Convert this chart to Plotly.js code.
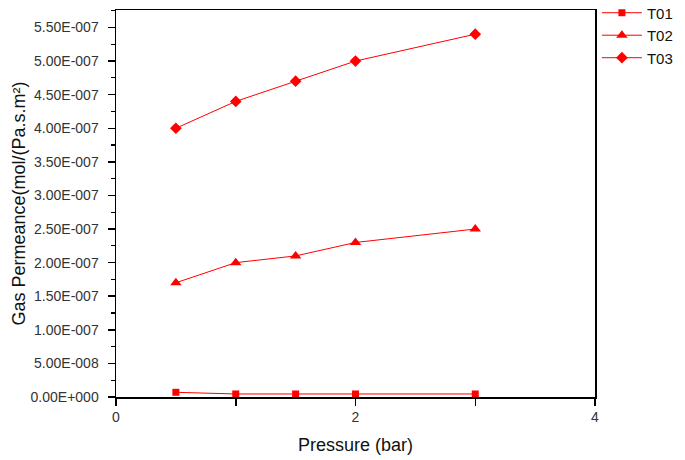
<!DOCTYPE html>
<html>
<head>
<meta charset="utf-8">
<script src="https://cdn.plot.ly/plotly-3.0.1.min.js"></script>
<style>html,body{margin:0;padding:0;background:#fff}#chart{width:685px;height:460px}</style>
</head>
<body>
<div id="chart"></div>
<script>
const pressure = [0.5, 1, 1.5, 2, 3];
const t01 = [7e-9, 4.5e-9, 4.5e-9, 4.5e-9, 4.5e-9];
const t02 = [1.7e-7, 2.0e-7, 2.1e-7, 2.3e-7, 2.5e-7];
const t03 = [4.0e-7, 4.4e-7, 4.7e-7, 5.0e-7, 5.4e-7];
const yTickVals = [0, 0.5e-7, 1.0e-7, 1.5e-7, 2.0e-7, 2.5e-7, 3.0e-7, 3.5e-7, 4.0e-7, 4.5e-7, 5.0e-7, 5.5e-7];
const yTickText = ["0.00E+000", "5.00E-008", "1.00E-007", "1.50E-007", "2.00E-007", "2.50E-007", "3.00E-007", "3.50E-007", "4.00E-007", "4.50E-007", "5.00E-007", "5.50E-007"];
const xTickVals = [0, 2, 4];
const xTickText = ["0", "2", "4"];

const red = '#ff0000';
function tr(name, y, sym, size) {
  return {x: pressure, y: y, name: name, type: 'scatter', mode: 'lines+markers',
    line: {color: red, width: 1}, marker: {color: red, symbol: sym, size: size}};
}
const data = [tr('T01', t01, 'square', 7), tr('T02', t02, 'triangle-up', 10), tr('T03', t03, 'diamond', 9)];
const axisCommon = {showline: true, linecolor: '#000', linewidth: 1.5, mirror: true, ticks: 'outside',
  tickcolor: '#000', tickwidth: 1.5, ticklen: 7, showgrid: false, zeroline: false,
  tickfont: {family: 'Liberation Sans, Arial, sans-serif', size: 14, color: '#333'}};
const layout = {
  width: 685, height: 460,
  margin: {l: 116, r: 90, t: 10, b: 63, autoexpand: false},
  paper_bgcolor: '#fff', plot_bgcolor: '#fff',
  font: {family: 'Liberation Sans, Arial, sans-serif', color: '#000'},
  xaxis: Object.assign({}, axisCommon, {range: [0, 4], tickmode: 'array', tickvals: xTickVals, ticktext: xTickText,
    minor: {ticks: 'outside', dtick: 1, tick0: 0, ticklen: 7, tickcolor: '#000', tickwidth: 1.5},
    title: {text: 'Pressure (bar)', font: {size: 18, color: '#111'}, standoff: 14}}),
  yaxis: Object.assign({}, axisCommon, {range: [0, 5.76e-7], tickmode: 'array', tickvals: yTickVals, ticktext: yTickText,
    ticklabelstandoff: 6,
    minor: {ticks: 'outside', dtick: 0.25e-7, tick0: 0, ticklen: 4, tickcolor: '#000', tickwidth: 1.2},
    title: {text: 'Gas Permeance(mol/(Pa.s.m²)', font: {size: 18, color: '#111'}, standoff: 0}}),
  legend: {x: 1.004, y: 1.035, xanchor: 'left', yanchor: 'top', font: {size: 15, color: '#111'},
    bgcolor: 'rgba(0,0,0,0)', tracegroupgap: 0, itemwidth: 40},
  showlegend: true
};
Plotly.newPlot('chart', data, layout, {displayModeBar: false, staticPlot: true});
</script>
</body>
</html>
